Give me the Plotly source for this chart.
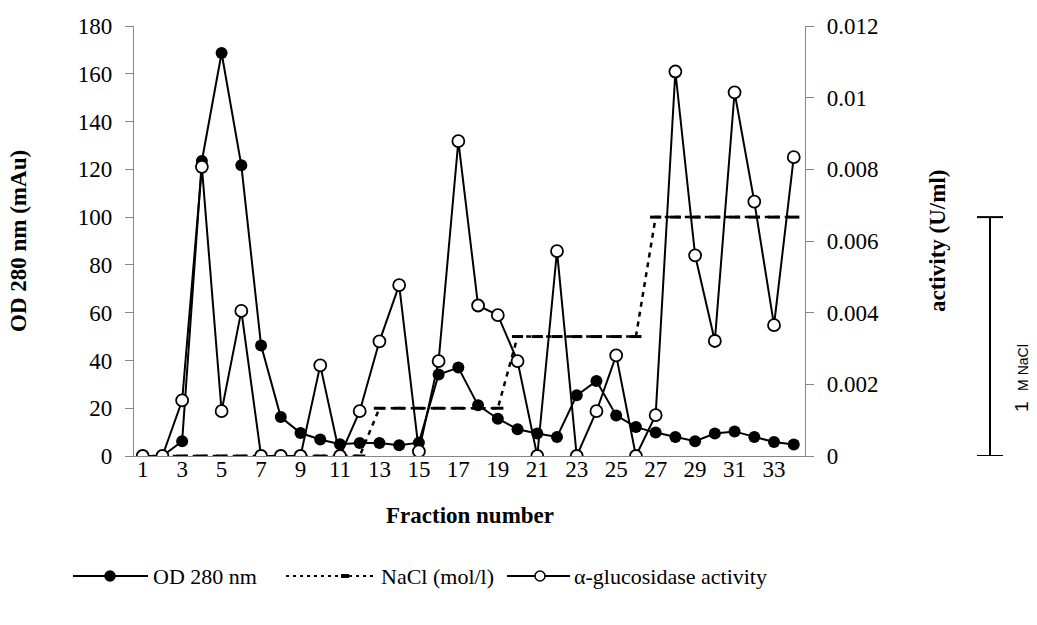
import plotly.graph_objects as go

# ---- data ----
fractions = list(range(1, 35))
od280 = [0, 0, 6.2, 123.5, 168.7, 121.7, 46.3, 16.3, 9.6, 6.9, 4.9, 5.4, 5.4, 4.5,
         5.6, 34.1, 37.0, 21.2, 15.6, 11.2, 9.4, 8.0, 25.4, 31.4, 17.0, 12.1, 9.8,
         8.0, 6.2, 9.4, 10.3, 8.0, 5.9, 4.8]
activity = [0, 0, 0.00155, 0.00807, 0.00125, 0.00405, 0, 0, 0, 0.00253, 0, 0.00125,
            0.0032, 0.00477, 0.00013, 0.00265, 0.00879, 0.0042, 0.00393, 0.00265, 0,
            0.00572, 0, 0.00125, 0.00281, 0, 0.00114, 0.01073, 0.0056, 0.00321,
            0.01015, 0.0071, 0.00365, 0.00834]
nacl_mol = [0] * 12 + [0.2] * 7 + [0.5] * 7 + [1.0] * 8
nacl_scale = 100  # 1 M NaCl drawn as 100 units on the left axis (scale bar)
x_ticks = list(range(1, 35, 2))
left_ticks = list(range(0, 181, 20))
right_ticks = [0, 0.002, 0.004, 0.006, 0.008, 0.01, 0.012]
right_tick_text = ["0", "0.002", "0.004", "0.006", "0.008", "0.01", "0.012"]

SERIF = "Liberation Serif, Times New Roman, serif"
FS = 23
AX = "#868686"

fig = go.Figure()
fig.add_trace(go.Scatter(
    x=fractions, y=od280, mode="lines+markers", name="OD 280 nm",
    line=dict(color="black", width=2),
    marker=dict(symbol="circle", size=12, color="black"),
    showlegend=False))
fig.add_trace(go.Scatter(
    x=fractions, y=[v * nacl_scale for v in nacl_mol], mode="lines+markers",
    name="NaCl (mol/l)",
    line=dict(color="black", width=2.5, dash="5px,5px"),
    marker=dict(symbol="line-ew", size=8, line=dict(color="black", width=3)),
    showlegend=False))
fig.add_trace(go.Scatter(
    x=fractions, y=activity, mode="lines+markers", name="α-glucosidase activity",
    yaxis="y2",
    line=dict(color="black", width=2),
    marker=dict(symbol="circle", size=12, color="white",
                line=dict(color="black", width=1.8)),
    showlegend=False))

W, H = 1037, 625
L, R, T, B = 134, 232, 26, 169
pw, ph = W - L - R, H - T - B


def px(xp):
    return (xp - L) / pw


def py(yp):
    return (H - B - yp) / ph


fig.update_layout(
    width=W, height=H,
    margin=dict(l=L, r=R, t=T, b=B),
    plot_bgcolor="white", paper_bgcolor="white",
    font=dict(family=SERIF, size=FS, color="black"),
    xaxis=dict(range=[0.56, 34.57], tickvals=x_ticks, ticks="",
               ticklabelstandoff=-8, showline=True, linecolor=AX, linewidth=1.2,
               showgrid=False, zeroline=False,
               tickfont=dict(family=SERIF, size=FS)),
    yaxis=dict(range=[0, 180], tickvals=left_ticks, ticks="outside", ticklen=8,
               tickcolor=AX, showline=True, linecolor=AX, linewidth=1.2,
               showgrid=False, zeroline=False, ticklabelstandoff=8,
               tickfont=dict(family=SERIF, size=FS)),
    yaxis2=dict(range=[0, 0.012], tickvals=right_ticks, ticktext=right_tick_text,
                overlaying="y", side="right", ticks="outside", ticklen=8,
                tickcolor=AX, showline=True, linecolor=AX, linewidth=1.2,
                showgrid=False, zeroline=False, ticklabelstandoff=8,
                tickfont=dict(family=SERIF, size=FS)),
    yaxis3=dict(range=[0, 0.012], tickvals=right_ticks, overlaying="y", side="right",
                ticks="inside", ticklen=8, tickcolor=AX, showticklabels=False,
                showline=False, showgrid=False, zeroline=False),
)

annotations = [
    dict(text="<b>OD 280 nm (mAu)</b>", x=px(18), y=0.5, xref="paper", yref="paper",
         xanchor="center", yanchor="middle",
         textangle=-90, showarrow=False, font=dict(family=SERIF, size=FS)),
    dict(text="<b>activity (U/ml)</b>", x=px(937), y=0.5, xref="paper", yref="paper",
         xanchor="center", yanchor="middle",
         textangle=-90, showarrow=False, font=dict(family=SERIF, size=FS)),
    dict(text="<b>Fraction number</b>", x=0.5, y=py(515), xref="paper", yref="paper",
         xanchor="center", yanchor="middle",
         showarrow=False, font=dict(family=SERIF, size=FS)),
    dict(text="1  <span style='font-size:14px'>M NaCl</span>", x=px(1021),
         y=py(378), xref="paper", yref="paper", textangle=-90, showarrow=False,
         xanchor="center", yanchor="middle",
         font=dict(family="Liberation Sans, Arial, sans-serif", size=19)),
]

shapes = []
# 1 M NaCl scale bar
xb = px(990)
shapes.append(dict(type="line", xref="paper", yref="y", x0=xb, x1=xb, y0=0,
                   y1=nacl_scale, line=dict(color="black", width=2)))
for yv in (0, nacl_scale):
    shapes.append(dict(type="line", xref="paper", yref="y", x0=px(977), x1=px(1003),
                       y0=yv, y1=yv, line=dict(color="black", width=2)))

# manual legend
ly = py(576)
legend_items = [
    (73, 148, 110, "filled", "OD 280 nm", 151),
    (286, 375, 345, "dash", "NaCl (mol/l)", 379),
    (507, 570, 540, "open", "α-glucosidase activity", 572),
]
for x0, x1, xm, kind, label, xt in legend_items:
    if kind == "dash":
        shapes.append(dict(type="line", xref="paper", yref="paper", x0=px(x0),
                           x1=px(x1), y0=ly, y1=ly,
                           line=dict(color="black", width=2, dash="3px,4px")))
        shapes.append(dict(type="line", xref="paper", yref="paper", x0=px(xm - 4),
                           x1=px(xm + 4), y0=ly, y1=ly,
                           line=dict(color="black", width=4)))
    else:
        shapes.append(dict(type="line", xref="paper", yref="paper", x0=px(x0),
                           x1=px(x1), y0=ly, y1=ly,
                           line=dict(color="black", width=2)))
        shapes.append(dict(type="circle", xref="paper", yref="paper",
                           xsizemode="pixel", ysizemode="pixel",
                           xanchor=px(xm), yanchor=ly, x0=-5, x1=5, y0=-5, y1=5,
                           fillcolor="black" if kind == "filled" else "white",
                           line=dict(color="black", width=1.5)))
    annotations.append(dict(text=label, x=px(xt), y=ly, xref="paper", yref="paper",
                            xanchor="left", yanchor="middle", showarrow=False,
                            font=dict(family=SERIF, size=22)))

fig.update_layout(annotations=annotations, shapes=shapes)
fig.write_html("out.html")
